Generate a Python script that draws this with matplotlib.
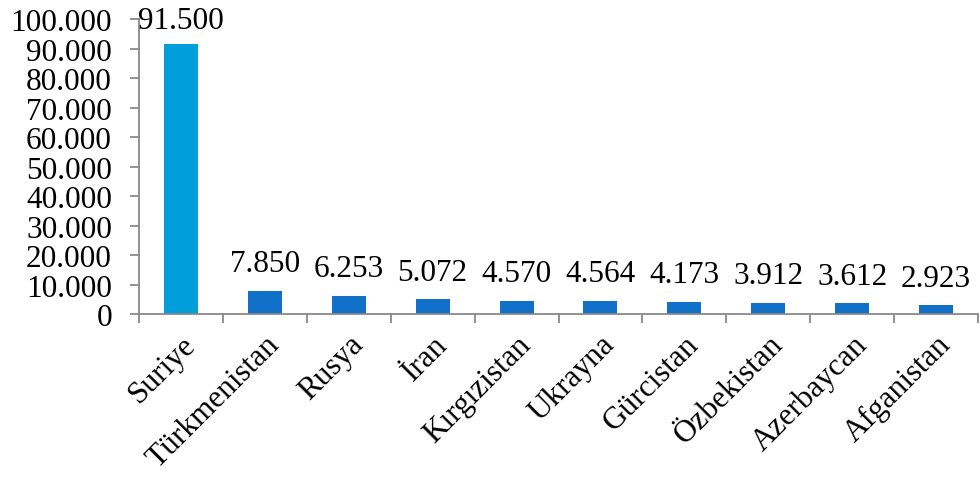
import matplotlib.pyplot as plt
import matplotlib.ticker as mtick
import numpy as np

countries = ["Suriye", "Türkmenistan", "Rusya", "İran", "Kırgızistan",
             "Ukrayna", "Gürcistan", "Özbekistan", "Azerbaycan", "Afganistan"]
values = [91500, 7850, 6253, 5072, 4570, 4564, 4173, 3912, 3612, 2923]
value_labels = ["91.500", "7.850", "6.253", "5.072", "4.570",
                "4.564", "4.173", "3.912", "3.612", "2.923"]

plt.rcParams['font.family'] = ['Liberation Serif', 'DejaVu Serif']
FS = 22.5

def dotted(v, pos):
  if v == 0:
    return "0"
  return "{:,.0f}".format(v).replace(",", ".")

fig = plt.figure(figsize=(9.8, 4.81), dpi=100)
ax = fig.add_axes([0.1418, 0.345, 0.8562, 0.613])

xs = np.arange(len(countries))
colors = ['#009fdb'] + ['#1170c8'] * (len(countries) - 1)
ax.bar(xs, values, width=0.405, color=colors)

for x, v, lab in zip(xs, values, value_labels):
  off = 12 if x == 0 else 14
  ax.annotate(lab, (x, v), xytext=(0, off), textcoords='offset points',
              ha='center', va='baseline', fontsize=FS, color='black')

ax.set_xlim(-0.5, len(countries) - 0.5)
ax.set_ylim(0, 100000)
ax.yaxis.set_major_locator(mtick.MultipleLocator(10000))
ax.yaxis.set_major_formatter(mtick.FuncFormatter(dotted))

ax.set_xticks(xs)
ax.set_xticklabels(countries, rotation=45, ha='right', rotation_mode='anchor')
ax.set_xticks(np.arange(-0.5, len(countries), 1.0), minor=True)
ax.tick_params(axis='x', which='major', length=0, pad=11, labelsize=FS)
ax.tick_params(axis='x', which='minor', length=6.5, width=1.3, color='#898989')
ax.tick_params(axis='y', length=6.5, width=1.3, color='#898989', labelsize=FS, pad=13)

for side in ['top', 'right']:
  ax.spines[side].set_visible(False)
for side in ['left', 'bottom']:
  ax.spines[side].set_color('#898989')
  ax.spines[side].set_linewidth(1.3)

fig.savefig("out.png", dpi=100)
